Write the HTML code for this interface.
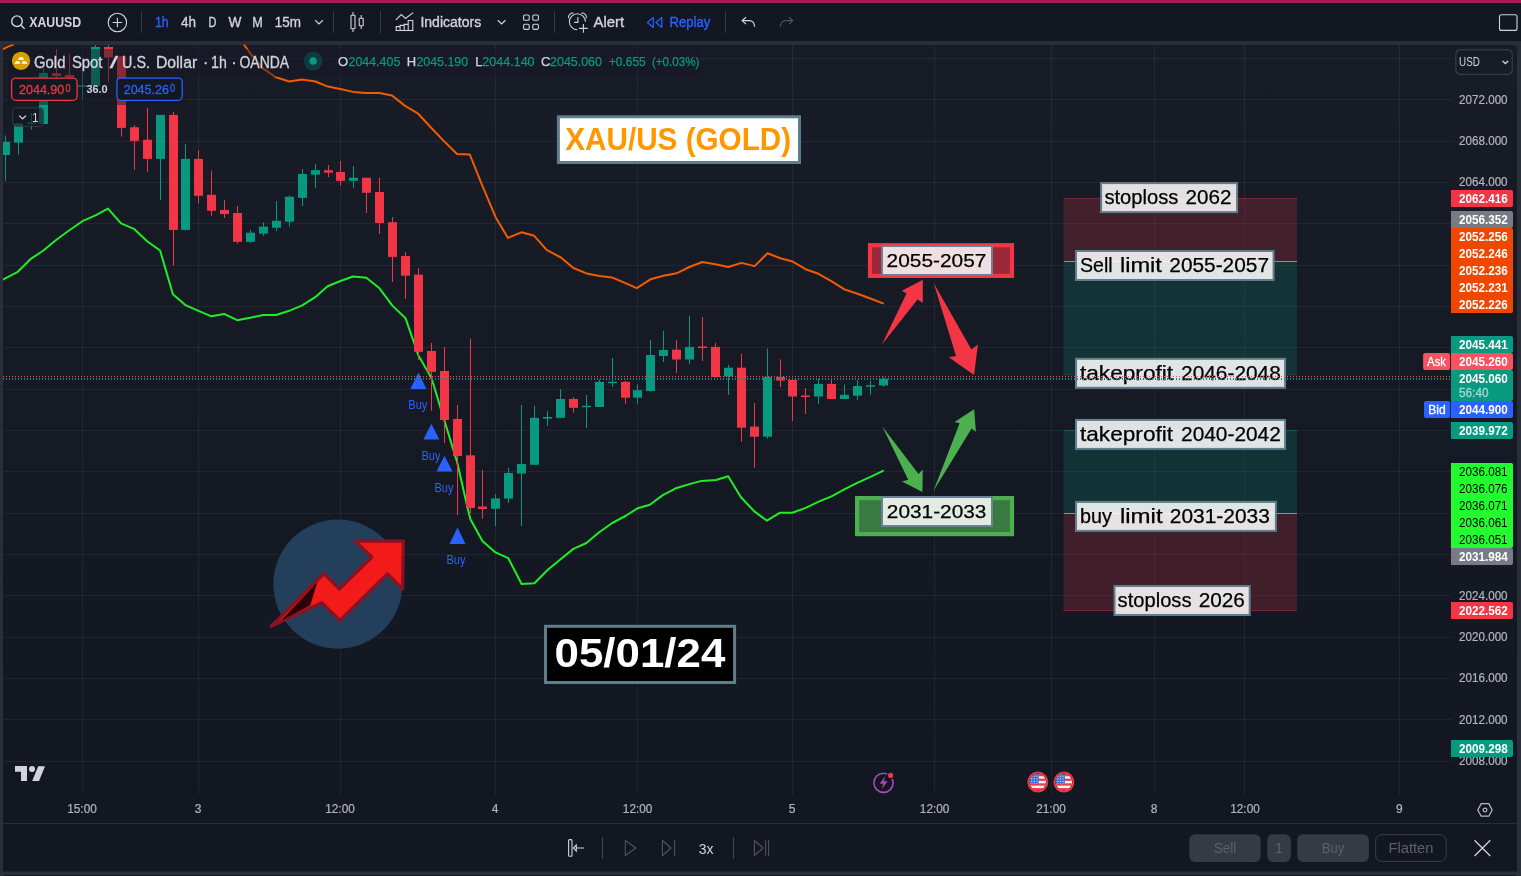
<!DOCTYPE html>
<html><head><meta charset="utf-8"><title>XAUUSD chart</title>
<style>
html,body{margin:0;padding:0;background:#2a2e39;}
body{width:1521px;height:876px;overflow:hidden;}
svg{display:block;font-family:'Liberation Sans', sans-serif;}
</style></head><body>
<svg width="1521" height="876" viewBox="0 0 1521 876">
<rect x="0.0" y="0.0" width="1521.0" height="876.0" fill="#2a2e39"/>
<rect x="0.0" y="0.0" width="1521.0" height="3.0" fill="#a9165a"/>
<rect x="0.0" y="3.0" width="1521.0" height="38.0" fill="#131722"/>
<path d="M3 49a4 4 0 0 1 4-4h1506a4 4 0 0 1 4 4V871.6H3z" fill="#131722"/>
<rect x="3.0" y="875.0" width="1514.0" height="5.0" fill="#131722" rx="3"/>
<defs><linearGradient id="bgg" x1="0" y1="0" x2="0" y2="1"><stop offset="0" stop-color="#181c27"/><stop offset="1" stop-color="#131722"/></linearGradient></defs>
<path d="M3 49a4 4 0 0 1 4-4h1506a4 4 0 0 1 4 4V796H3z" fill="url(#bgg)"/>
<g fill="rgba(240,243,250,0.06)">
<rect x="3" y="58" width="1448" height="1"/>
<rect x="3" y="99" width="1448" height="1"/>
<rect x="3" y="141" width="1448" height="1"/>
<rect x="3" y="182" width="1448" height="1"/>
<rect x="3" y="223" width="1448" height="1"/>
<rect x="3" y="265" width="1448" height="1"/>
<rect x="3" y="306" width="1448" height="1"/>
<rect x="3" y="347" width="1448" height="1"/>
<rect x="3" y="389" width="1448" height="1"/>
<rect x="3" y="430" width="1448" height="1"/>
<rect x="3" y="471" width="1448" height="1"/>
<rect x="3" y="513" width="1448" height="1"/>
<rect x="3" y="554" width="1448" height="1"/>
<rect x="3" y="595" width="1448" height="1"/>
<rect x="3" y="637" width="1448" height="1"/>
<rect x="3" y="678" width="1448" height="1"/>
<rect x="3" y="719" width="1448" height="1"/>
<rect x="3" y="761" width="1448" height="1"/>
<rect x="82" y="45" width="1" height="750"/>
<rect x="198" y="45" width="1" height="750"/>
<rect x="340" y="45" width="1" height="750"/>
<rect x="495" y="45" width="1" height="750"/>
<rect x="637" y="45" width="1" height="750"/>
<rect x="792" y="45" width="1" height="750"/>
<rect x="934" y="45" width="1" height="750"/>
<rect x="1051" y="45" width="1" height="750"/>
<rect x="1154" y="45" width="1" height="750"/>
<rect x="1244" y="45" width="1" height="750"/>
<rect x="1399" y="45" width="1" height="750"/>
</g>
<rect x="3.0" y="823.0" width="1514.0" height="1.0" fill="#2a2e39"/>
<clipPath id="pane"><rect x="3" y="44.5" width="1448" height="750"/></clipPath><g clip-path="url(#pane)">
<rect x="1063.5" y="198.0" width="233.5" height="63.5" fill="rgba(242,54,69,0.2)"/>
<rect x="1063.5" y="261.5" width="233.5" height="113.5" fill="rgba(8,153,129,0.2)"/>
<rect x="1064.0" y="261.0" width="233.0" height="1.0" fill="#8c8f99"/>
<rect x="1063.5" y="430.0" width="233.5" height="83.5" fill="rgba(8,153,129,0.2)"/>
<rect x="1063.5" y="513.5" width="233.5" height="97.5" fill="rgba(242,54,69,0.2)"/>
<rect x="1064.0" y="513.0" width="233.0" height="1.0" fill="#8c8f99"/>
<rect x="1063.5" y="198.0" width="233.5" height="1.0" fill="rgba(242,54,69,0.3)"/>
<rect x="1063.5" y="610.0" width="233.5" height="1.0" fill="rgba(242,54,69,0.3)"/>
<rect x="1063.5" y="374.5" width="233.5" height="1.0" fill="rgba(8,153,129,0.3)"/>
<rect x="1063.5" y="430.0" width="233.5" height="1.0" fill="rgba(8,153,129,0.3)"/>
<rect x="1101.1" y="183.1" width="136.0" height="29.0" fill="rgba(255,255,255,0.87)" stroke="#607d8b" stroke-width="2"/>
<text x="1104.4" y="204.1" font-size="19.8" fill="#000" textLength="74.0" lengthAdjust="spacingAndGlyphs" stroke="#000" stroke-width="0.25">stoploss</text>
<text x="1185.6" y="203.9" font-size="19.3" fill="#000" textLength="45.9" lengthAdjust="spacingAndGlyphs" stroke="#000" stroke-width="0.25">2062</text>
<rect x="1076.0" y="251.0" width="197.6" height="29.0" fill="rgba(255,255,255,0.87)" stroke="#607d8b" stroke-width="2"/>
<text x="1080.0" y="272.0" font-size="19.8" fill="#000" textLength="32.7" lengthAdjust="spacingAndGlyphs" stroke="#000" stroke-width="0.25">Sell</text>
<text x="1119.9" y="272.0" font-size="19.8" fill="#000" textLength="42.0" lengthAdjust="spacingAndGlyphs" stroke="#000" stroke-width="0.25">limit</text>
<text x="1169.3" y="271.8" font-size="19.3" fill="#000" textLength="99.7" lengthAdjust="spacingAndGlyphs" stroke="#000" stroke-width="0.25">2055-2057</text>
<rect x="1076.0" y="358.8" width="209.1" height="29.0" fill="rgba(255,255,255,0.87)" stroke="#607d8b" stroke-width="2"/>
<text x="1080.0" y="379.8" font-size="19.8" fill="#000" textLength="93.1" lengthAdjust="spacingAndGlyphs" stroke="#000" stroke-width="0.25">takeprofit</text>
<text x="1181.1" y="379.6" font-size="19.3" fill="#000" textLength="99.7" lengthAdjust="spacingAndGlyphs" stroke="#000" stroke-width="0.25">2046-2048</text>
<rect x="1076.0" y="419.9" width="209.1" height="29.0" fill="rgba(255,255,255,0.87)" stroke="#607d8b" stroke-width="2"/>
<text x="1080.0" y="440.9" font-size="19.8" fill="#000" textLength="93.1" lengthAdjust="spacingAndGlyphs" stroke="#000" stroke-width="0.25">takeprofit</text>
<text x="1181.1" y="440.7" font-size="19.3" fill="#000" textLength="99.7" lengthAdjust="spacingAndGlyphs" stroke="#000" stroke-width="0.25">2040-2042</text>
<rect x="1076.0" y="501.9" width="199.9" height="29.0" fill="rgba(255,255,255,0.87)" stroke="#607d8b" stroke-width="2"/>
<text x="1080.0" y="522.9" font-size="19.8" fill="#000" textLength="31.9" lengthAdjust="spacingAndGlyphs" stroke="#000" stroke-width="0.25">buy</text>
<text x="1119.9" y="522.9" font-size="19.8" fill="#000" textLength="42.7" lengthAdjust="spacingAndGlyphs" stroke="#000" stroke-width="0.25">limit</text>
<text x="1169.8" y="522.7" font-size="19.3" fill="#000" textLength="100.0" lengthAdjust="spacingAndGlyphs" stroke="#000" stroke-width="0.25">2031-2033</text>
<rect x="1114.5" y="586.0" width="135.2" height="29.0" fill="rgba(255,255,255,0.87)" stroke="#607d8b" stroke-width="2"/>
<text x="1117.6" y="607.0" font-size="19.8" fill="#000" textLength="73.9" lengthAdjust="spacingAndGlyphs" stroke="#000" stroke-width="0.25">stoploss</text>
<text x="1198.7" y="606.9" font-size="19.3" fill="#000" textLength="46.2" lengthAdjust="spacingAndGlyphs" stroke="#000" stroke-width="0.25">2026</text>
<polyline points="3.0,49.0 8.0,46.6 13.0,44.8" fill="none" stroke="#f45b00" stroke-width="2" stroke-linejoin="round" stroke-linecap="round"/>
<polyline points="244.2,45.0 251.7,55.2 262.6,68.2 276.0,77.3 289.3,81.5 302.1,79.6 315.5,81.5 327.9,86.6 340.4,89.0 353.1,91.9 366.2,93.1 379.3,93.1 392.0,95.5 405.1,105.9 417.8,113.3 430.9,127.5 443.7,140.9 457.0,154.0 469.8,154.5 482.2,185.4 495.6,217.2 508.0,237.9 521.4,232.3 534.2,235.8 546.9,250.1 560.9,257.5 573.4,268.0 586.5,273.4 599.5,275.9 612.4,277.6 625.4,283.2 636.8,288.2 650.5,279.3 663.4,275.7 676.5,273.3 689.4,267.0 702.3,262.0 715.4,264.2 728.3,267.0 741.4,262.9 754.6,266.1 767.5,253.3 780.3,258.2 792.6,261.5 805.5,269.2 818.4,273.8 831.3,281.2 844.4,289.4 857.5,293.8 870.4,298.5 883.0,303.4" fill="none" stroke="#f45b00" stroke-width="2" stroke-linejoin="round" stroke-linecap="round"/>
<polyline points="3.3,279.4 17.8,271.8 30.4,259.2 43.4,250.5 56.4,239.7 69.4,230.3 82.4,221.2 95.5,215.4 108.0,208.6 121.0,223.4 133.9,228.8 147.1,241.2 160.1,250.5 172.9,294.3 185.9,305.4 198.5,310.8 211.5,316.3 224.1,313.9 237.1,320.2 250.2,317.8 263.2,315.0 276.2,315.0 289.2,310.8 302.2,305.4 315.2,297.2 327.6,286.2 340.5,281.0 353.0,276.5 366.4,277.7 379.5,288.3 392.6,305.9 405.6,318.3 418.4,355.5 431.5,378.0 444.5,420.9 457.3,462.7 467.3,506.7 470.4,519.2 482.4,541.0 495.5,552.4 508.3,558.2 521.6,584.0 534.4,583.3 547.5,570.0 560.3,559.4 573.4,548.9 586.4,543.0 599.2,532.3 612.3,523.0 625.4,516.0 637.5,508.3 649.9,504.7 662.8,495.1 675.8,488.3 688.6,484.4 701.5,480.9 716.1,480.0 728.2,476.3 741.0,497.2 754.3,511.4 767.0,520.7 780.0,512.7 792.4,512.8 805.7,507.9 818.7,501.7 831.5,496.3 844.8,489.2 857.8,482.7 870.5,476.8 883.0,470.9" fill="none" stroke="#1fee26" stroke-width="2" stroke-linejoin="round" stroke-linecap="round"/>
<g fill="#089981">
<rect x="5" y="135.5" width="1" height="45.2"/>
<rect x="1" y="141.8" width="9" height="13.2"/>
<rect x="18" y="123.5" width="1" height="31.1"/>
<rect x="14" y="123.5" width="9" height="19.1"/>
<rect x="31" y="113.0" width="1" height="16.5"/>
<rect x="27" y="122.5" width="9" height="1.5"/>
<rect x="43" y="68.0" width="1" height="56.0"/>
<rect x="39" y="73.0" width="9" height="51.0"/>
<rect x="82" y="72.0" width="1" height="27.5"/>
<rect x="78" y="85.0" width="9" height="2.0"/>
<rect x="95" y="45.0" width="1" height="41.0"/>
<rect x="91" y="47.0" width="9" height="39.0"/>
<rect x="160" y="114.9" width="1" height="85.1"/>
<rect x="156" y="114.9" width="9" height="44.0"/>
<rect x="185" y="144.1" width="1" height="86.4"/>
<rect x="181" y="158.9" width="9" height="71.0"/>
<rect x="250" y="229.9" width="1" height="13.0"/>
<rect x="246" y="232.7" width="9" height="9.1"/>
<rect x="263" y="222.3" width="1" height="13.7"/>
<rect x="259" y="226.6" width="9" height="7.0"/>
<rect x="276" y="201.0" width="1" height="30.0"/>
<rect x="272" y="220.8" width="9" height="6.9"/>
<rect x="289" y="195.6" width="1" height="31.0"/>
<rect x="285" y="196.7" width="9" height="25.0"/>
<rect x="302" y="169.0" width="1" height="37.0"/>
<rect x="298" y="174.0" width="9" height="23.8"/>
<rect x="315" y="164.0" width="1" height="23.8"/>
<rect x="311" y="170.2" width="9" height="4.5"/>
<rect x="353" y="166.0" width="1" height="21.8"/>
<rect x="349" y="177.7" width="9" height="3.1"/>
<rect x="495" y="494.0" width="1" height="32.0"/>
<rect x="491" y="498.4" width="9" height="10.3"/>
<rect x="508" y="467.7" width="1" height="35.3"/>
<rect x="504" y="473.0" width="9" height="25.6"/>
<rect x="521" y="405.0" width="1" height="121.0"/>
<rect x="517" y="464.0" width="9" height="9.5"/>
<rect x="534" y="405.8" width="1" height="59.0"/>
<rect x="530" y="417.8" width="9" height="47.0"/>
<rect x="547" y="410.8" width="1" height="15.1"/>
<rect x="543" y="417.0" width="9" height="1.6"/>
<rect x="560" y="389.0" width="1" height="28.8"/>
<rect x="556" y="399.0" width="9" height="18.8"/>
<rect x="586" y="395.0" width="1" height="32.9"/>
<rect x="582" y="405.8" width="9" height="1.4"/>
<rect x="599" y="379.4" width="1" height="27.6"/>
<rect x="595" y="381.9" width="9" height="25.1"/>
<rect x="612" y="358.0" width="1" height="29.0"/>
<rect x="608" y="381.7" width="9" height="1.5"/>
<rect x="637" y="384.4" width="1" height="19.1"/>
<rect x="633" y="390.2" width="9" height="7.5"/>
<rect x="650" y="340.0" width="1" height="51.5"/>
<rect x="646" y="355.0" width="9" height="36.0"/>
<rect x="663" y="330.8" width="1" height="31.2"/>
<rect x="659" y="350.0" width="9" height="6.0"/>
<rect x="689" y="315.7" width="1" height="48.3"/>
<rect x="685" y="346.9" width="9" height="12.6"/>
<rect x="728" y="365.0" width="1" height="30.0"/>
<rect x="724" y="367.7" width="9" height="8.8"/>
<rect x="767" y="348.6" width="1" height="90.0"/>
<rect x="763" y="377.0" width="9" height="59.7"/>
<rect x="818" y="378.7" width="1" height="25.2"/>
<rect x="814" y="383.9" width="9" height="12.6"/>
<rect x="844" y="384.7" width="1" height="14.3"/>
<rect x="840" y="394.8" width="9" height="4.2"/>
<rect x="857" y="380.0" width="1" height="19.8"/>
<rect x="853" y="386.0" width="9" height="9.7"/>
<rect x="870" y="380.6" width="1" height="14.2"/>
<rect x="866" y="385.3" width="9" height="1.5"/>
<rect x="883" y="377.0" width="1" height="9.9"/>
<rect x="879" y="378.7" width="9" height="6.8"/>
</g>
<g fill="#f23645">
<rect x="56" y="49.0" width="1" height="28.5"/>
<rect x="52" y="73.3" width="9" height="2.7"/>
<rect x="69" y="53.5" width="1" height="34.5"/>
<rect x="65" y="75.0" width="9" height="2.5"/>
<rect x="108" y="45.0" width="1" height="37.3"/>
<rect x="104" y="47.0" width="9" height="10.4"/>
<rect x="121" y="56.3" width="1" height="80.2"/>
<rect x="117" y="56.3" width="9" height="71.6"/>
<rect x="134" y="125.0" width="1" height="44.7"/>
<rect x="130" y="127.2" width="9" height="13.7"/>
<rect x="147" y="107.9" width="1" height="63.8"/>
<rect x="143" y="139.8" width="9" height="19.1"/>
<rect x="173" y="112.0" width="1" height="153.7"/>
<rect x="169" y="114.9" width="9" height="115.0"/>
<rect x="198" y="150.2" width="1" height="53.2"/>
<rect x="194" y="158.9" width="9" height="36.9"/>
<rect x="211" y="170.8" width="1" height="45.0"/>
<rect x="207" y="194.8" width="9" height="16.0"/>
<rect x="224" y="200.2" width="1" height="17.8"/>
<rect x="220" y="209.9" width="9" height="4.2"/>
<rect x="237" y="206.0" width="1" height="37.6"/>
<rect x="233" y="213.0" width="9" height="28.8"/>
<rect x="328" y="165.0" width="1" height="12.0"/>
<rect x="324" y="170.2" width="9" height="2.5"/>
<rect x="340" y="161.0" width="1" height="24.8"/>
<rect x="336" y="172.0" width="9" height="8.8"/>
<rect x="366" y="177.7" width="1" height="35.3"/>
<rect x="362" y="177.7" width="9" height="15.1"/>
<rect x="379" y="177.7" width="1" height="56.1"/>
<rect x="375" y="192.0" width="9" height="31.0"/>
<rect x="392" y="217.0" width="1" height="65.0"/>
<rect x="388" y="222.2" width="9" height="34.7"/>
<rect x="405" y="252.0" width="1" height="47.0"/>
<rect x="401" y="256.0" width="9" height="19.7"/>
<rect x="418" y="268.0" width="1" height="92.0"/>
<rect x="414" y="274.6" width="9" height="77.2"/>
<rect x="431" y="343.0" width="1" height="67.8"/>
<rect x="427" y="351.0" width="9" height="20.9"/>
<rect x="444" y="347.0" width="1" height="96.0"/>
<rect x="440" y="371.0" width="9" height="49.0"/>
<rect x="457" y="405.0" width="1" height="110.0"/>
<rect x="453" y="419.0" width="9" height="37.0"/>
<rect x="470" y="338.7" width="1" height="174.3"/>
<rect x="466" y="455.3" width="9" height="52.7"/>
<rect x="482" y="470.0" width="1" height="48.7"/>
<rect x="478" y="506.5" width="9" height="2.5"/>
<rect x="573" y="397.0" width="1" height="15.8"/>
<rect x="569" y="399.0" width="9" height="8.8"/>
<rect x="625" y="380.7" width="1" height="23.1"/>
<rect x="621" y="381.9" width="9" height="15.8"/>
<rect x="676" y="340.0" width="1" height="33.0"/>
<rect x="672" y="349.7" width="9" height="9.8"/>
<rect x="702" y="317.0" width="1" height="44.0"/>
<rect x="698" y="346.5" width="9" height="1.5"/>
<rect x="715" y="342.8" width="1" height="35.1"/>
<rect x="711" y="346.9" width="9" height="30.1"/>
<rect x="741" y="353.8" width="1" height="87.9"/>
<rect x="737" y="367.7" width="9" height="60.0"/>
<rect x="754" y="403.0" width="1" height="64.8"/>
<rect x="750" y="426.6" width="9" height="10.1"/>
<rect x="780" y="359.5" width="1" height="27.5"/>
<rect x="776" y="377.0" width="9" height="3.6"/>
<rect x="792" y="379.8" width="1" height="41.1"/>
<rect x="788" y="379.8" width="9" height="16.7"/>
<rect x="805" y="388.0" width="1" height="26.0"/>
<rect x="801" y="395.5" width="9" height="1.5"/>
<rect x="831" y="379.2" width="1" height="19.8"/>
<rect x="827" y="383.9" width="9" height="15.1"/>
</g>
<polygon points="410.4,389.0 426.4,389.0 418.4,372.6" fill="#2962ff"/>
<text x="417.8" y="409.3" font-size="12" fill="#2962ff" text-anchor="middle" textLength="19.0" lengthAdjust="spacingAndGlyphs">Buy</text>
<polygon points="423.4,439.6 439.4,439.6 431.4,423.8" fill="#2962ff"/>
<text x="431.0" y="460.3" font-size="12" fill="#2962ff" text-anchor="middle" textLength="19.0" lengthAdjust="spacingAndGlyphs">Buy</text>
<polygon points="436.5,471.5 452.5,471.5 444.5,455.7" fill="#2962ff"/>
<text x="444.0" y="492.1" font-size="12" fill="#2962ff" text-anchor="middle" textLength="19.0" lengthAdjust="spacingAndGlyphs">Buy</text>
<polygon points="449.5,543.9 465.5,543.9 457.5,527.5" fill="#2962ff"/>
<text x="456.0" y="564.3" font-size="12" fill="#2962ff" text-anchor="middle" textLength="19.0" lengthAdjust="spacingAndGlyphs">Buy</text>
<line x1="3" y1="376.5" x2="1451" y2="376.5" stroke="#f7525f" stroke-width="1" stroke-dasharray="1 2"/>
<line x1="3" y1="378.5" x2="1451" y2="378.5" stroke="#089981" stroke-width="1" stroke-dasharray="1 2"/>
<line x1="3" y1="379.5" x2="1451" y2="379.5" stroke="#2962ff" stroke-width="1" stroke-dasharray="1 2"/>
<rect x="558.4" y="116.8" width="241.1" height="45.7" fill="#fff" stroke="#607d8b" stroke-width="3"/>
<text x="565.2" y="149.9" font-size="32" fill="#ff9800" font-weight="bold" textLength="226.0" lengthAdjust="spacingAndGlyphs">XAU/US (GOLD)</text>
<rect x="545.5" y="626.3" width="189.1" height="56.2" fill="rgba(0,0,0,0.93)" stroke="#607d8b" stroke-width="3"/>
<text x="554.6" y="667.1" font-size="40.5" fill="#fff" font-weight="bold" textLength="170.7" lengthAdjust="spacingAndGlyphs">05/01/24</text>
<rect x="870" y="245.2" width="142" height="30.7" fill="#9b2737" stroke="#f23645" stroke-width="4.2"/>
<rect x="882" y="246" width="110" height="29" fill="#f0dfe0" stroke="#6b7f95" stroke-width="2"/>
<text x="886.6" y="266.8" font-size="19.2" fill="#000" textLength="99.8" lengthAdjust="spacingAndGlyphs" stroke="#000" stroke-width="0.25">2055-2057</text>
<rect x="857.1" y="498.1" width="154.9" height="36" fill="#397942" stroke="#4caf50" stroke-width="4.2"/>
<rect x="882" y="497" width="110" height="29" fill="#e2ebe2" stroke="#6b7f95" stroke-width="2"/>
<text x="886.8" y="517.8" font-size="19.2" fill="#000" textLength="99.6" lengthAdjust="spacingAndGlyphs" stroke="#000" stroke-width="0.25">2031-2033</text>
<polygon fill="#f23645" points="881.8,344.8 906.5,293.4 901.9,290.7 922.8,279.8 922.8,302.8 917.5,299.5"/>
<polygon fill="#f23645" points="933.7,283.1 971.4,349.4 977.9,344.6 974.1,375 948.8,357.3 956,356"/>
<polygon fill="#4caf50" points="882.2,426.3 918.5,474.1 922.8,469.5 922.4,492.1 901.9,481.5 908.2,479.8"/>
<polygon fill="#4caf50" points="933.4,490.9 959.6,423.3 954.5,421.9 974.2,409.2 975.9,431.8 971.6,428.4"/>
<circle cx="337.9" cy="584.1" r="64.6" fill="#243f5c"/>
<polygon points="271.1,626.4 324,573.5 339.4,589 371.9,557 355.1,541.2 403.3,541.2 402.6,589 387.4,574 339.9,620.4 321.7,602.7" fill="#f31a1a" stroke="#8a1222" stroke-width="3.2" stroke-linejoin="round"/>
<polygon points="280.5,621 317.2,582.6 310.3,605.2" fill="#2a0006"/>
</g>
<rect x="8.0" y="49.0" width="692.0" height="28.0" fill="rgba(22,26,37,0.48)"/>
<rect x="8.0" y="77.0" width="178.0" height="28.0" fill="rgba(22,26,37,0.48)"/>
<circle cx="21" cy="60.8" r="9.1" fill="#d99e00"/>
<g fill="#fff"><path d="M19.4 57.2h3.5l1.2 2.5h-6z"/><path d="M16.3 61.2h2.7l1.2 2.6h-6z"/><path d="M22.7 61.2h2.9l2.2 2.6h-6.1z"/></g>
<text x="34.0" y="67.5" font-size="16" fill="#d1d4dc" textLength="31.4" lengthAdjust="spacingAndGlyphs" stroke="#d1d4dc" stroke-width="0.3">Gold</text>
<text x="71.9" y="67.5" font-size="16" fill="#d1d4dc" textLength="30.6" lengthAdjust="spacingAndGlyphs" stroke="#d1d4dc" stroke-width="0.3">Spot</text>
<text x="109.7" y="67.5" font-size="16" fill="#d1d4dc" textLength="8.2" lengthAdjust="spacingAndGlyphs" stroke="#d1d4dc" stroke-width="0.3">/</text>
<text x="122.1" y="67.5" font-size="16" fill="#d1d4dc" textLength="27.8" lengthAdjust="spacingAndGlyphs" stroke="#d1d4dc" stroke-width="0.3">U.S.</text>
<text x="155.9" y="67.5" font-size="16" fill="#d1d4dc" textLength="41.3" lengthAdjust="spacingAndGlyphs" stroke="#d1d4dc" stroke-width="0.3">Dollar</text>
<text x="202.9" y="67.5" font-size="16" fill="#d1d4dc" stroke="#d1d4dc" stroke-width="0.3">·</text>
<text x="211.1" y="67.5" font-size="16" fill="#d1d4dc" textLength="15.7" lengthAdjust="spacingAndGlyphs" stroke="#d1d4dc" stroke-width="0.3">1h</text>
<text x="231.2" y="67.5" font-size="16" fill="#d1d4dc" stroke="#d1d4dc" stroke-width="0.3">·</text>
<text x="239.5" y="67.5" font-size="16" fill="#d1d4dc" textLength="49.6" lengthAdjust="spacingAndGlyphs" stroke="#d1d4dc" stroke-width="0.3">OANDA</text>
<circle cx="313.1" cy="61" r="9.5" fill="#103a3d"/><circle cx="313.1" cy="61" r="3.7" fill="#089981"/>
<text x="338.1" y="66.1" font-size="13" fill="#d1d4dc" stroke="#d1d4dc" stroke-width="0.25">O</text>
<text x="348.5" y="66.1" font-size="13" fill="#089981" textLength="51.8" lengthAdjust="spacingAndGlyphs" stroke="#089981" stroke-width="0.25">2044.405</text>
<text x="406.8" y="66.1" font-size="13" fill="#d1d4dc" stroke="#d1d4dc" stroke-width="0.25">H</text>
<text x="416.4" y="66.1" font-size="13" fill="#089981" textLength="51.7" lengthAdjust="spacingAndGlyphs" stroke="#089981" stroke-width="0.25">2045.190</text>
<text x="475.2" y="66.1" font-size="13" fill="#d1d4dc" stroke="#d1d4dc" stroke-width="0.25">L</text>
<text x="482.3" y="66.1" font-size="13" fill="#089981" textLength="52.3" lengthAdjust="spacingAndGlyphs" stroke="#089981" stroke-width="0.25">2044.140</text>
<text x="541.1" y="66.1" font-size="13" fill="#d1d4dc" stroke="#d1d4dc" stroke-width="0.25">C</text>
<text x="550.1" y="66.1" font-size="13" fill="#089981" textLength="51.8" lengthAdjust="spacingAndGlyphs" stroke="#089981" stroke-width="0.25">2045.060</text>
<text x="608.9" y="66.1" font-size="13" fill="#089981" textLength="36.8" lengthAdjust="spacingAndGlyphs" stroke="#089981" stroke-width="0.25">+0.655</text>
<text x="651.9" y="66.1" font-size="13" fill="#089981" textLength="47.5" lengthAdjust="spacingAndGlyphs" stroke="#089981" stroke-width="0.25">(+0.03%)</text>
<rect x="11.6" y="78.1" width="65.5" height="22.2" rx="4" fill="#131722" stroke="#f23645" stroke-width="1.3"/>
<text x="19.0" y="94.2" font-size="13" fill="#f23645" textLength="45.3" lengthAdjust="spacingAndGlyphs" stroke="#f23645" stroke-width="0.3">2044.90</text>
<text x="65.4" y="91.8" font-size="11.3" fill="#f23645" textLength="5.2" lengthAdjust="spacingAndGlyphs" stroke="#f23645" stroke-width="0.3">0</text>
<text x="86.4" y="93.2" font-size="11" fill="#d1d4dc" font-weight="bold" textLength="21.3" lengthAdjust="spacingAndGlyphs">36.0</text>
<rect x="116.9" y="78.1" width="65.3" height="22.2" rx="4" fill="#131722" stroke="#2962ff" stroke-width="1.3"/>
<text x="123.7" y="94.2" font-size="13" fill="#2962ff" textLength="45.3" lengthAdjust="spacingAndGlyphs" stroke="#2962ff" stroke-width="0.3">2045.26</text>
<text x="170.0" y="91.8" font-size="11.3" fill="#2962ff" textLength="5.2" lengthAdjust="spacingAndGlyphs" stroke="#2962ff" stroke-width="0.3">0</text>
<rect x="12.8" y="107.9" width="30.5" height="18.4" rx="3" fill="rgba(19,23,34,0.6)" stroke="#363a45" stroke-width="1"/>
<path d="M19.2 115.6l3.4 3.2 3.4-3.2" fill="none" stroke="#d1d4dc" stroke-width="1.3"/>
<text x="32.0" y="121.6" font-size="12" fill="#d1d4dc">1</text>
<text x="1459.0" y="103.7" font-size="12" fill="#b2b5be" textLength="48.6" lengthAdjust="spacingAndGlyphs" stroke="#b2b5be" stroke-width="0.2">2072.000</text>
<text x="1459.0" y="145.1" font-size="12" fill="#b2b5be" textLength="48.6" lengthAdjust="spacingAndGlyphs" stroke="#b2b5be" stroke-width="0.2">2068.000</text>
<text x="1459.0" y="186.4" font-size="12" fill="#b2b5be" textLength="48.6" lengthAdjust="spacingAndGlyphs" stroke="#b2b5be" stroke-width="0.2">2064.000</text>
<text x="1459.0" y="599.7" font-size="12" fill="#b2b5be" textLength="48.6" lengthAdjust="spacingAndGlyphs" stroke="#b2b5be" stroke-width="0.2">2024.000</text>
<text x="1459.0" y="641.0" font-size="12" fill="#b2b5be" textLength="48.6" lengthAdjust="spacingAndGlyphs" stroke="#b2b5be" stroke-width="0.2">2020.000</text>
<text x="1459.0" y="682.4" font-size="12" fill="#b2b5be" textLength="48.6" lengthAdjust="spacingAndGlyphs" stroke="#b2b5be" stroke-width="0.2">2016.000</text>
<text x="1459.0" y="723.7" font-size="12" fill="#b2b5be" textLength="48.6" lengthAdjust="spacingAndGlyphs" stroke="#b2b5be" stroke-width="0.2">2012.000</text>
<text x="1459.0" y="765.0" font-size="12" fill="#b2b5be" textLength="48.6" lengthAdjust="spacingAndGlyphs" stroke="#b2b5be" stroke-width="0.2">2008.000</text>
<rect x="1455.9" y="49.8" width="56.3" height="24.5" rx="4" fill="none" stroke="#40444f" stroke-width="1"/>
<text x="1459.1" y="66.1" font-size="12" fill="#d1d4dc" textLength="20.8" lengthAdjust="spacingAndGlyphs">USD</text>
<path d="M1502.6 61l2.8 2.6 2.8-2.6" fill="none" stroke="#d1d4dc" stroke-width="1.4"/>
<rect x="1451.0" y="190.0" width="62.0" height="17.0" fill="#f23645" rx="2"/>
<rect x="1451.0" y="190.0" width="4.0" height="17.0" fill="#f23645"/>
<text x="1459.0" y="203.0" font-size="12" fill="#fff" font-weight="bold" textLength="48.8" lengthAdjust="spacingAndGlyphs">2062.416</text>
<rect x="1451.0" y="211.0" width="62.0" height="17.0" fill="#787b86" rx="2"/>
<rect x="1451.0" y="211.0" width="4.0" height="17.0" fill="#787b86"/>
<text x="1459.0" y="224.0" font-size="12" fill="#fff" font-weight="bold" textLength="48.8" lengthAdjust="spacingAndGlyphs">2056.352</text>
<rect x="1451.0" y="228.0" width="62.0" height="85.0" fill="#f04700" rx="2"/>
<rect x="1451.0" y="228.0" width="4.0" height="85.0" fill="#f04700"/>
<text x="1459.0" y="241.0" font-size="12" fill="#fff" font-weight="bold" textLength="48.8" lengthAdjust="spacingAndGlyphs">2052.256</text>
<text x="1459.0" y="258.0" font-size="12" fill="#fff" font-weight="bold" textLength="48.8" lengthAdjust="spacingAndGlyphs">2052.246</text>
<text x="1459.0" y="275.0" font-size="12" fill="#fff" font-weight="bold" textLength="48.8" lengthAdjust="spacingAndGlyphs">2052.236</text>
<text x="1459.0" y="292.0" font-size="12" fill="#fff" font-weight="bold" textLength="48.8" lengthAdjust="spacingAndGlyphs">2052.231</text>
<text x="1459.0" y="309.0" font-size="12" fill="#fff" font-weight="bold" textLength="48.8" lengthAdjust="spacingAndGlyphs">2052.226</text>
<rect x="1451.0" y="336.0" width="62.0" height="17.0" fill="#089981" rx="2"/>
<rect x="1451.0" y="336.0" width="4.0" height="17.0" fill="#089981"/>
<text x="1459.0" y="349.0" font-size="12" fill="#fff" font-weight="bold" textLength="48.8" lengthAdjust="spacingAndGlyphs">2045.441</text>
<rect x="1423.1" y="353.0" width="27.0" height="17.0" fill="#f7525f" rx="2"/>
<text x="1436.6" y="365.9" font-size="12" fill="#fff" text-anchor="middle" textLength="18.5" lengthAdjust="spacingAndGlyphs" stroke="#fff" stroke-width="0.3">Ask</text>
<rect x="1451.0" y="353.0" width="62.0" height="17.0" fill="#f7525f" rx="2"/>
<rect x="1451.0" y="353.0" width="4.0" height="17.0" fill="#f7525f"/>
<text x="1459.0" y="366.0" font-size="12" fill="#fff" font-weight="bold" textLength="48.8" lengthAdjust="spacingAndGlyphs">2045.260</text>
<rect x="1451.0" y="370.0" width="62.0" height="31.0" fill="#089981" rx="2"/>
<rect x="1451.0" y="370.0" width="4.0" height="31.0" fill="#089981"/>
<text x="1459.0" y="383.1" font-size="12" fill="#fff" font-weight="bold" textLength="48.8" lengthAdjust="spacingAndGlyphs">2045.060</text>
<text x="1459.0" y="397.0" font-size="12" fill="#a5d8cf" textLength="29.5" lengthAdjust="spacingAndGlyphs" stroke="#a5d8cf" stroke-width="0.3">56:40</text>
<rect x="1424.0" y="401.0" width="26.2" height="17.0" fill="#2962ff" rx="2"/>
<text x="1437.0" y="413.9" font-size="12" fill="#fff" text-anchor="middle" textLength="17.5" lengthAdjust="spacingAndGlyphs" stroke="#fff" stroke-width="0.3">Bid</text>
<rect x="1451.0" y="401.0" width="62.0" height="17.0" fill="#2962ff" rx="2"/>
<rect x="1451.0" y="401.0" width="4.0" height="17.0" fill="#2962ff"/>
<text x="1459.0" y="414.0" font-size="12" fill="#fff" font-weight="bold" textLength="48.8" lengthAdjust="spacingAndGlyphs">2044.900</text>
<rect x="1451.0" y="422.0" width="62.0" height="17.0" fill="#089981" rx="2"/>
<rect x="1451.0" y="422.0" width="4.0" height="17.0" fill="#089981"/>
<text x="1459.0" y="435.0" font-size="12" fill="#fff" font-weight="bold" textLength="48.8" lengthAdjust="spacingAndGlyphs">2039.972</text>
<rect x="1451.0" y="463.0" width="62.0" height="85.0" fill="#22fb2f" rx="2"/>
<rect x="1451.0" y="463.0" width="4.0" height="85.0" fill="#22fb2f"/>
<text x="1459.0" y="476.0" font-size="12" fill="#000" textLength="48.6" lengthAdjust="spacingAndGlyphs">2036.081</text>
<text x="1459.0" y="493.0" font-size="12" fill="#000" textLength="48.6" lengthAdjust="spacingAndGlyphs">2036.076</text>
<text x="1459.0" y="510.0" font-size="12" fill="#000" textLength="48.6" lengthAdjust="spacingAndGlyphs">2036.071</text>
<text x="1459.0" y="527.0" font-size="12" fill="#000" textLength="48.6" lengthAdjust="spacingAndGlyphs">2036.061</text>
<text x="1459.0" y="544.0" font-size="12" fill="#000" textLength="48.6" lengthAdjust="spacingAndGlyphs">2036.051</text>
<rect x="1451.0" y="548.0" width="62.0" height="17.0" fill="#787b86" rx="2"/>
<rect x="1451.0" y="548.0" width="4.0" height="17.0" fill="#787b86"/>
<text x="1459.0" y="561.0" font-size="12" fill="#fff" font-weight="bold" textLength="48.8" lengthAdjust="spacingAndGlyphs">2031.984</text>
<rect x="1451.0" y="602.0" width="62.0" height="17.0" fill="#f23645" rx="2"/>
<rect x="1451.0" y="602.0" width="4.0" height="17.0" fill="#f23645"/>
<text x="1459.0" y="615.0" font-size="12" fill="#fff" font-weight="bold" textLength="48.8" lengthAdjust="spacingAndGlyphs">2022.562</text>
<rect x="1451.0" y="740.0" width="62.0" height="17.0" fill="#089981" rx="2"/>
<rect x="1451.0" y="740.0" width="4.0" height="17.0" fill="#089981"/>
<text x="1459.0" y="753.0" font-size="12" fill="#fff" font-weight="bold" textLength="48.8" lengthAdjust="spacingAndGlyphs">2009.298</text>
<text x="82.0" y="813.0" font-size="12" fill="#b2b5be" text-anchor="middle" textLength="29.5" lengthAdjust="spacingAndGlyphs" stroke="#b2b5be" stroke-width="0.2">15:00</text>
<text x="198.0" y="813.0" font-size="12" fill="#b2b5be" text-anchor="middle" stroke="#b2b5be" stroke-width="0.2">3</text>
<text x="340.0" y="813.0" font-size="12" fill="#b2b5be" text-anchor="middle" textLength="29.5" lengthAdjust="spacingAndGlyphs" stroke="#b2b5be" stroke-width="0.2">12:00</text>
<text x="495.0" y="813.0" font-size="12" fill="#b2b5be" text-anchor="middle" stroke="#b2b5be" stroke-width="0.2">4</text>
<text x="637.6" y="813.0" font-size="12" fill="#b2b5be" text-anchor="middle" textLength="29.5" lengthAdjust="spacingAndGlyphs" stroke="#b2b5be" stroke-width="0.2">12:00</text>
<text x="792.0" y="813.0" font-size="12" fill="#b2b5be" text-anchor="middle" stroke="#b2b5be" stroke-width="0.2">5</text>
<text x="934.6" y="813.0" font-size="12" fill="#b2b5be" text-anchor="middle" textLength="29.5" lengthAdjust="spacingAndGlyphs" stroke="#b2b5be" stroke-width="0.2">12:00</text>
<text x="1051.0" y="813.0" font-size="12" fill="#b2b5be" text-anchor="middle" textLength="29.5" lengthAdjust="spacingAndGlyphs" stroke="#b2b5be" stroke-width="0.2">21:00</text>
<text x="1154.0" y="813.0" font-size="12" fill="#b2b5be" text-anchor="middle" stroke="#b2b5be" stroke-width="0.2">8</text>
<text x="1245.0" y="813.0" font-size="12" fill="#b2b5be" text-anchor="middle" textLength="29.5" lengthAdjust="spacingAndGlyphs" stroke="#b2b5be" stroke-width="0.2">12:00</text>
<text x="1399.4" y="813.0" font-size="12" fill="#b2b5be" text-anchor="middle" stroke="#b2b5be" stroke-width="0.2">9</text>
<g fill="none" stroke="#b8bbc4" stroke-width="1.2"><path d="M1477.8 810l3.4-6.3h7.6l3.4 6.3-3.4 6.2h-7.6z"/><circle cx="1485" cy="810" r="1.9"/></g>
<g fill="#d1d4dc"><path d="M15 766h12v15h-6v-9.2h-6z"/><circle cx="32" cy="769" r="3"/><path d="M38.2 766.2h6.8l-6 14.8h-6.8z"/></g>
<g><circle cx="883.5" cy="782.8" r="9.6" fill="none" stroke="#ab47bc" stroke-width="1.6"/><path d="M885.2 776.2l-5.6 7.6h3.6l-1.4 5.2 5.8-7.8h-3.7z" fill="#ab47bc"/><circle cx="890.6" cy="775.4" r="3.6" fill="#131722"/><circle cx="890.6" cy="775.4" r="2.6" fill="#f23645"/></g>
<clipPath id="fc1037"><circle cx="1037.8" cy="782.1" r="8.2"/></clipPath>
<g clip-path="url(#fc1037)"><rect x="1028.8" y="773.1" width="18" height="18" fill="#f4f4f4"/>
<rect x="1028.8" y="773.9" width="18" height="2.35" fill="#e8424f"/>
<rect x="1028.8" y="778.6" width="18" height="2.35" fill="#e8424f"/>
<rect x="1028.8" y="783.3" width="18" height="2.35" fill="#e8424f"/>
<rect x="1028.8" y="788.0" width="18" height="2.35" fill="#e8424f"/>
<rect x="1028.8" y="773.1" width="10" height="10.2" fill="#3d6fd9"/>
<rect x="1031.2" y="775.7" width="1.1" height="1.1" fill="#cfe0ff"/>
<rect x="1031.2" y="778.3" width="1.1" height="1.1" fill="#cfe0ff"/>
<rect x="1031.2" y="780.9" width="1.1" height="1.1" fill="#cfe0ff"/>
<rect x="1033.8" y="775.7" width="1.1" height="1.1" fill="#cfe0ff"/>
<rect x="1033.8" y="778.3" width="1.1" height="1.1" fill="#cfe0ff"/>
<rect x="1033.8" y="780.9" width="1.1" height="1.1" fill="#cfe0ff"/>
<rect x="1036.4" y="775.7" width="1.1" height="1.1" fill="#cfe0ff"/>
<rect x="1036.4" y="778.3" width="1.1" height="1.1" fill="#cfe0ff"/>
<rect x="1036.4" y="780.9" width="1.1" height="1.1" fill="#cfe0ff"/>
</g>
<circle cx="1037.8" cy="782.1" r="9.5" fill="none" stroke="#f23645" stroke-width="2"/>
<clipPath id="fc1063"><circle cx="1063.9" cy="782.1" r="8.2"/></clipPath>
<g clip-path="url(#fc1063)"><rect x="1054.9" y="773.1" width="18" height="18" fill="#f4f4f4"/>
<rect x="1054.9" y="773.9" width="18" height="2.35" fill="#e8424f"/>
<rect x="1054.9" y="778.6" width="18" height="2.35" fill="#e8424f"/>
<rect x="1054.9" y="783.3" width="18" height="2.35" fill="#e8424f"/>
<rect x="1054.9" y="788.0" width="18" height="2.35" fill="#e8424f"/>
<rect x="1054.9" y="773.1" width="10" height="10.2" fill="#3d6fd9"/>
<rect x="1057.3" y="775.7" width="1.1" height="1.1" fill="#cfe0ff"/>
<rect x="1057.3" y="778.3" width="1.1" height="1.1" fill="#cfe0ff"/>
<rect x="1057.3" y="780.9" width="1.1" height="1.1" fill="#cfe0ff"/>
<rect x="1059.9" y="775.7" width="1.1" height="1.1" fill="#cfe0ff"/>
<rect x="1059.9" y="778.3" width="1.1" height="1.1" fill="#cfe0ff"/>
<rect x="1059.9" y="780.9" width="1.1" height="1.1" fill="#cfe0ff"/>
<rect x="1062.5" y="775.7" width="1.1" height="1.1" fill="#cfe0ff"/>
<rect x="1062.5" y="778.3" width="1.1" height="1.1" fill="#cfe0ff"/>
<rect x="1062.5" y="780.9" width="1.1" height="1.1" fill="#cfe0ff"/>
</g>
<circle cx="1063.9" cy="782.1" r="9.5" fill="none" stroke="#f23645" stroke-width="2"/>
<g fill="none" stroke="#d1d4dc" stroke-width="1.1"><rect x="568.6" y="839.6" width="3.4" height="16.6" rx="1"/><path d="M584 848h-7.7M576.3 845l-2.9 3 2.9 3.1z"/></g>
<rect x="602.0" y="837.0" width="1.0" height="22.0" fill="#434651"/>
<rect x="733.0" y="837.0" width="1.0" height="22.0" fill="#434651"/>
<g fill="none" stroke="#50535e" stroke-width="1.1" stroke-linejoin="round"><path d="M625.3 840.5v15l10.6-7.5z"/><path d="M662.4 840.5v15l8.7-7.5zM674.6 840.3v15.4"/><path d="M754.4 840.5v15l8.7-7.5zM765.6 840.3v15.4M768.6 840.3v15.4"/></g>
<text x="698.7" y="853.6" font-size="14" fill="#d1d4dc" textLength="14.8" lengthAdjust="spacingAndGlyphs">3x</text>
<rect x="1189.2" y="834.2" width="71.5" height="27.7" fill="#363a45" rx="6"/>
<text x="1225.0" y="853.4" font-size="14" fill="#5d606b" text-anchor="middle" textLength="22.5" lengthAdjust="spacingAndGlyphs">Sell</text>
<rect x="1267.2" y="834.2" width="23.7" height="27.7" fill="#363a45" rx="6"/>
<text x="1279.0" y="853.4" font-size="14" fill="#5d606b" text-anchor="middle">1</text>
<rect x="1297.2" y="834.2" width="71.7" height="27.7" fill="#363a45" rx="6"/>
<text x="1333.0" y="853.4" font-size="14" fill="#5d606b" text-anchor="middle" textLength="22.5" lengthAdjust="spacingAndGlyphs">Buy</text>
<rect x="1375.7" y="834.7" width="70.5" height="26.7" rx="6" fill="none" stroke="#3a3e49" stroke-width="1"/>
<text x="1411.0" y="853.4" font-size="14" fill="#5d606b" text-anchor="middle" textLength="45.0" lengthAdjust="spacingAndGlyphs">Flatten</text>
<path d="M1474.5 840.2l15.8 15.8M1490.3 840.2l-15.8 15.8" stroke="#d1d4dc" stroke-width="1.3" fill="none"/>
<g fill="none" stroke="#d1d4dc" stroke-width="1.4"><circle cx="17" cy="21.2" r="5.3"/><path d="M20.8 25l3.8 3.8"/></g>
<text x="29.2" y="27.3" font-size="14" fill="#d1d4dc" font-weight="bold" textLength="52.0" lengthAdjust="spacingAndGlyphs">XAUUSD</text>
<g fill="none" stroke="#d1d4dc" stroke-width="1.1"><circle cx="117.4" cy="22.5" r="9.2"/><path d="M112.6 22.5h9.6M117.4 17.7v9.6"/></g>
<rect x="141.0" y="11.0" width="1.0" height="22.0" fill="#363a45"/>
<rect x="333.0" y="11.0" width="1.0" height="22.0" fill="#363a45"/>
<rect x="380.0" y="11.0" width="1.0" height="22.0" fill="#363a45"/>
<rect x="554.0" y="11.0" width="1.0" height="22.0" fill="#363a45"/>
<rect x="725.0" y="11.0" width="1.0" height="22.0" fill="#363a45"/>
<text x="154.9" y="27.3" font-size="14" fill="#2962ff" textLength="13.7" lengthAdjust="spacingAndGlyphs" stroke="#2962ff" stroke-width="0.35">1h</text>
<text x="181.1" y="27.3" font-size="14" fill="#d1d4dc" textLength="15.0" lengthAdjust="spacingAndGlyphs" stroke="#d1d4dc" stroke-width="0.35">4h</text>
<text x="208.6" y="27.3" font-size="14" fill="#d1d4dc" textLength="7.9" lengthAdjust="spacingAndGlyphs" stroke="#d1d4dc" stroke-width="0.35">D</text>
<text x="228.6" y="27.3" font-size="14" fill="#d1d4dc" textLength="12.9" lengthAdjust="spacingAndGlyphs" stroke="#d1d4dc" stroke-width="0.35">W</text>
<text x="252.3" y="27.3" font-size="14" fill="#d1d4dc" textLength="10.5" lengthAdjust="spacingAndGlyphs" stroke="#d1d4dc" stroke-width="0.35">M</text>
<text x="274.8" y="27.3" font-size="14" fill="#d1d4dc" textLength="26.2" lengthAdjust="spacingAndGlyphs" stroke="#d1d4dc" stroke-width="0.35">15m</text>
<path d="M315.2 20.3l3.8 3.6 3.8-3.6" fill="none" stroke="#d1d4dc" stroke-width="1.2"/>
<g fill="none" stroke="#d1d4dc" stroke-width="1.1"><rect x="351" y="15.3" width="4" height="13.4" rx="0.5"/><path d="M353 12v3.3M353 28.7v3.3"/><rect x="359.2" y="18.3" width="4" height="7.4" rx="0.5"/><path d="M361.2 15v3.3M361.2 25.7v3.3"/></g>
<g fill="none" stroke="#d1d4dc" stroke-width="1.1"><path d="M395.8 19.9l5.5-5.4 4.2 4 7.7-5.9"/><path d="M396.2 30.5v-3.9h3.9v3.9M400.1 26.6v-1.2h4.1v5.1M404.2 25.4v-1h4v6.1M408.2 24.4v-3.9h4.6v10"/><path d="M395.6 30.5h17.8"/></g>
<text x="420.4" y="27.3" font-size="14" fill="#d1d4dc" textLength="60.8" lengthAdjust="spacingAndGlyphs" stroke="#d1d4dc" stroke-width="0.35">Indicators</text>
<path d="M497.8 20.3l3.8 3.6 3.8-3.6" fill="none" stroke="#d1d4dc" stroke-width="1.2"/>
<g fill="none" stroke="#d1d4dc" stroke-width="1.1"><rect x="523.6" y="15" width="5.6" height="5.2" rx="1.3"/><rect x="532.8" y="15" width="5.6" height="5.2" rx="1.3"/><rect x="523.6" y="24.2" width="5.6" height="5.2" rx="1.3"/><rect x="532.8" y="24.2" width="5.6" height="5.2" rx="1.3"/></g>
<g fill="none" stroke="#d1d4dc" stroke-width="1.1"><path d="M585.4 21.8A8 8 0 1 0 577.4 29.8"/><path d="M577.9 17.1v5.3h-3.7"/><path d="M568.5 18.2a4.3 4.3 0 0 1 5.2-5M581.2 13.2a4.3 4.3 0 0 1 5.2 5"/><path d="M583.4 24v8.8M579 28.4h8.8"/></g>
<text x="593.6" y="27.3" font-size="14" fill="#d1d4dc" textLength="30.6" lengthAdjust="spacingAndGlyphs" stroke="#d1d4dc" stroke-width="0.35">Alert</text>
<g fill="none" stroke="#2962ff" stroke-width="1.2" stroke-linejoin="round"><path d="M653.3 17.5v10l-5.9-5zM661.8 17.5v10l-5.9-5z"/></g>
<text x="669.6" y="27.3" font-size="14" fill="#2962ff" textLength="40.7" lengthAdjust="spacingAndGlyphs" stroke="#2962ff" stroke-width="0.35">Replay</text>
<path d="M746 17.2l-3.8 3.4 3.8 3.5M742.2 20.6h7.3a5 5.5 0 0 1 5 5.5v0.7" fill="none" stroke="#d1d4dc" stroke-width="1.2"/>
<path d="M789 17.2l3.8 3.4-3.8 3.5M792.8 20.6h-7.3a5 5.5 0 0 0-5 5.5v0.7" fill="none" stroke="#50535e" stroke-width="1.2"/>
<rect x="1499.5" y="14.8" width="17.5" height="15.6" rx="2" fill="none" stroke="#d1d4dc" stroke-width="1.1"/>
</svg>
</body></html>
